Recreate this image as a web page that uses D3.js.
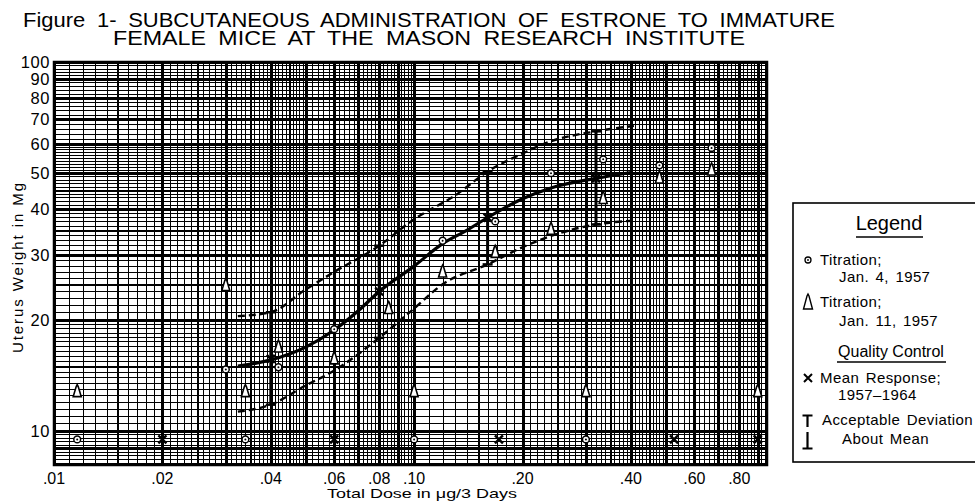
<!DOCTYPE html>
<html>
<head>
<meta charset="utf-8">
<script src="https://d3js.org/d3.v7.min.js"></script>
<style>
  body{ margin:0px; padding:0px; background:#fff; }
  text{ font-family:"Liberation Sans", Arial, sans-serif; fill:#000; }
</style>
</head>
<body>
<div id="svg_cont"></div>
<script>

// axis ticks
var xTicks = [0.01, 0.02, 0.04, 0.06, 0.08, 0.10, 0.20, 0.40, 0.60, 0.80];
var xTickLabels = [".01", ".02", ".04", ".06", ".08", ".10", ".20", ".40", ".60", ".80"];
var yTicks = [10, 20, 30, 40, 50, 60, 70, 80, 90, 100];

// Titration; Jan. 4, 1957 (circles)
var jan4Dose = [0.030, 0.042, 0.060, 0.120, 0.168, 0.240, 0.335, 0.480, 0.670];
var jan4Wt   = [14.7, 14.9, 18.9, 32.8, 37.0, 50.0, 54.5, 52.5, 58.5];

// Titration; Jan. 11, 1957 (triangles)
var jan11Dose = [0.0116, 0.030, 0.034, 0.042, 0.060, 0.085, 0.100, 0.120, 0.168, 0.240, 0.300, 0.335, 0.480, 0.670, 0.900];
var jan11Wt   = [12.8, 24.8, 12.8, 16.9, 15.7, 21.5, 12.8, 27.0, 30.5, 35.2, 12.8, 42.7, 48.5, 51.0, 12.8];

// marks along the bottom row
var rowCircleDose = [0.0116, 0.034, 0.100, 0.300];
var rowCrossDose  = [0.020, 0.060, 0.172, 0.527, 0.900];
var rowWt = 9.5;

// Quality control: mean response 1957-1964 and acceptable deviation
var meanDose = [0.04, 0.08, 0.16, 0.32];
var meanResp = [15.7, 23.9, 37.9, 48.4];
var devHigh  = [21.0, 31.8, 50.5, 64.9];
var devLow   = [11.8, 17.9, 28.3, 36.3];

// fitted curves
var meanCurveDose = [0.0324, 0.04, 0.05, 0.06, 0.07, 0.08, 0.10, 0.12, 0.14, 0.16, 0.20, 0.24, 0.32, 0.40];
var meanCurveWt   = [15.0, 15.6, 16.9, 18.8, 21.2, 23.9, 28.0, 32.2, 35.0, 37.9, 42.6, 45.6, 48.4, 50.2];
var upperCurveDose = [0.0324, 0.04, 0.05, 0.06, 0.08, 0.10, 0.13, 0.16, 0.20, 0.24, 0.32, 0.41];
var upperCurveWt   = [20.5, 21.0, 24.2, 27.0, 31.8, 37.5, 43.5, 50.5, 56.5, 61.0, 64.9, 67.2];
var lowerCurveDose = [0.0324, 0.04, 0.05, 0.06, 0.08, 0.10, 0.12, 0.16, 0.20, 0.24, 0.32, 0.41];
var lowerCurveWt   = [11.3, 11.8, 13.3, 14.6, 17.9, 21.5, 25.0, 28.3, 31.5, 33.8, 36.3, 37.2];

var w = 975, h = 501;

var svg_main = d3.select("div#svg_cont")
  .append("svg")
  .attr("width", w)
  .attr("height", h)
  .style("display", "block");

svg_main.append("rect").attr("width", w).attr("height", h).attr("fill", "#fff");

var x = d3.scaleLog().domain([0.01, 0.955]).range([54, 767]);
var y = d3.scaleLog().domain([8.1, 100]).range([465, 62]);

// graph paper rulings: [start, end, step]
var xGridSpec = [[0.010, 0.050, 0.001], [0.050, 0.100, 0.002], [0.10, 0.50, 0.01], [0.50, 0.95, 0.02]];
var yGridSpec = [[8.2, 10, 0.2], [10, 20, 0.5], [20, 60, 1], [60, 100, 2]];

function gridValues(spec){
  var out = [];
  spec.forEach(function(s){
    var n = Math.round((s[1] - s[0]) / s[2]);
    for (var i = 0; i <= n; i++) out.push(+(s[0] + i*s[2]).toFixed(4));
  });
  return out;
}
// 2 for whole mantissa, 1 for half mantissa, 0 otherwise
function rank(v){
  var m = v / Math.pow(10, Math.floor(Math.log10(v) + 1e-9));
  if (Math.abs(m - Math.round(m)) < 1e-6) return 2;
  if (m < 5 && Math.abs(m*2 - Math.round(m*2)) < 1e-6) return 1;
  return 0;
}
var gridWidth = [1, 2, 2.4];

var grid = svg_main.append("g").attr("class", "grid")
  .attr("shape-rendering", "crispEdges");

grid.selectAll("line.vx")
  .data(gridValues(xGridSpec))
  .enter().append("line")
    .attr("x1", d => Math.round(x(d)) + 0.5).attr("x2", d => Math.round(x(d)) + 0.5)
    .attr("y1", y.range()[1]).attr("y2", y.range()[0])
    .attr("stroke", "#000")
    .attr("stroke-width", d => gridWidth[rank(d)]);

grid.selectAll("line.hy")
  .data(gridValues(yGridSpec))
  .enter().append("line")
    .attr("y1", d => Math.round(y(d)) + 0.5).attr("y2", d => Math.round(y(d)) + 0.5)
    .attr("x1", x.range()[0]).attr("x2", x.range()[1])
    .attr("stroke", "#000")
    .attr("stroke-width", d => gridWidth[rank(d)]);

svg_main.append("rect")
  .attr("x", x.range()[0]).attr("y", y.range()[1])
  .attr("width", x.range()[1] - x.range()[0])
  .attr("height", y.range()[0] - y.range()[1])
  .attr("fill", "none").attr("stroke", "#000").attr("stroke-width", 2.5);

// tick labels
svg_main.selectAll("text.ytick")
  .data(yTicks)
  .enter().append("text")
    .attr("x", 50).attr("y", d => y(d) + 6)
    .attr("text-anchor", "end")
    .attr("font-size", 16.5).attr("letter-spacing", 0.6)
    .text(d => d);

svg_main.selectAll("text.xtick")
  .data(xTicks)
  .enter().append("text")
    .attr("x", d => x(d)).attr("y", 484)
    .attr("text-anchor", "middle")
    .attr("font-size", 16)
    .text((d, i) => xTickLabels[i]);

// axis titles
svg_main.append("text")
  .attr("transform", "translate(23,268) rotate(-90)")
  .attr("text-anchor", "middle")
  .attr("font-size", 15)
  .attr("textLength", 170).attr("lengthAdjust", "spacing")
  .text("Uterus Weight in Mg");

svg_main.append("text")
  .attr("x", 327).attr("y", 497.5)
  .attr("font-size", 13)
  .attr("textLength", 190).attr("lengthAdjust", "spacingAndGlyphs")
  .text("Total Dose in \u03bcg/3 Days");

// title
svg_main.append("text")
  .attr("x", 23).attr("y", 27)
  .attr("font-size", 19.5).attr("word-spacing", 5)
  .attr("textLength", 812).attr("lengthAdjust", "spacingAndGlyphs")
  .text("Figure 1- SUBCUTANEOUS ADMINISTRATION OF ESTRONE TO IMMATURE");
svg_main.append("text")
  .attr("x", 113).attr("y", 44.5)
  .attr("font-size", 19.5).attr("word-spacing", 5)
  .attr("textLength", 632).attr("lengthAdjust", "spacingAndGlyphs")
  .text("FEMALE MICE AT THE MASON RESEARCH INSTITUTE");

// curves
var line = d3.line()
  .x(d => x(d[0]))
  .y(d => y(d[1]))
  .curve(d3.curveMonotoneX);

var meanCurve = d3.zip(meanCurveDose, meanCurveWt);
var upperCurve = d3.zip(upperCurveDose, upperCurveWt);
var lowerCurve = d3.zip(lowerCurveDose, lowerCurveWt);

svg_main.append("path")
  .attr("d", line(upperCurve))
  .attr("fill", "none").attr("stroke", "#000")
  .attr("stroke-width", 2.4).attr("stroke-dasharray", "7,4");
svg_main.append("path")
  .attr("d", line(lowerCurve))
  .attr("fill", "none").attr("stroke", "#000")
  .attr("stroke-width", 2.4).attr("stroke-dasharray", "7,4");
svg_main.append("path")
  .attr("d", line(meanCurve))
  .attr("fill", "none").attr("stroke", "#000")
  .attr("stroke-width", 3.2);

// acceptable deviation bars
var bars = svg_main.selectAll("g.devbar")
  .data(meanDose)
  .enter().append("g");
bars.append("line")
  .attr("x1", d => x(d)).attr("x2", d => x(d))
  .attr("y1", (d, i) => y(devHigh[i])).attr("y2", (d, i) => y(devLow[i]))
  .attr("stroke", "#000").attr("stroke-width", 3);
bars.append("line")
  .attr("x1", d => x(d) - 5).attr("x2", d => x(d) + 5)
  .attr("y1", (d, i) => y(devHigh[i])).attr("y2", (d, i) => y(devHigh[i]))
  .attr("stroke", "#000").attr("stroke-width", 2.5);
bars.append("line")
  .attr("x1", d => x(d) - 5).attr("x2", d => x(d) + 5)
  .attr("y1", (d, i) => y(devLow[i])).attr("y2", (d, i) => y(devLow[i]))
  .attr("stroke", "#000").attr("stroke-width", 2.5);

// marker shapes
var triPath = "M0,-7 L1,-5 L4,5 L-4,5 L-1,-5 Z";
var crossPath = "M-4,-4L4,4M-4,4L4,-4";

function drawCircles(doses, wts){
  var g = svg_main.append("g");
  doses.forEach(function(d, i){
    var wt = Array.isArray(wts) ? wts[i] : wts;
    g.append("circle").attr("cx", x(d)).attr("cy", y(wt)).attr("r", 3.4)
      .attr("fill", "#fff").attr("stroke", "#000").attr("stroke-width", 1.5);
    g.append("circle").attr("cx", x(d)).attr("cy", y(wt)).attr("r", 1)
      .attr("fill", "#000");
  });
}
function drawTriangles(doses, wts){
  svg_main.append("g").selectAll("path")
    .data(doses)
    .enter().append("path")
      .attr("d", triPath)
      .attr("transform", (d, i) => "translate(" + x(d) + "," + y(wts[i]) + ")")
      .attr("fill", "#fff").attr("stroke", "#000").attr("stroke-width", 1.6);
}
function drawCrosses(doses, wts){
  svg_main.append("g").selectAll("path")
    .data(doses)
    .enter().append("path")
      .attr("d", crossPath)
      .attr("transform", (d, i) => "translate(" + x(d) + "," + y(Array.isArray(wts) ? wts[i] : wts) + ")")
      .attr("fill", "none").attr("stroke", "#000").attr("stroke-width", 2.4);
}

drawCircles(jan4Dose, jan4Wt);
drawTriangles(jan11Dose, jan11Wt);
drawCircles(rowCircleDose, rowWt);
drawCrosses(rowCrossDose, rowWt);
drawCrosses(meanDose, meanResp);

// legend
var lg = svg_main.append("g");
lg.append("rect")
  .attr("x", 793).attr("y", 203).attr("width", 200).attr("height", 259)
  .attr("fill", "#fff").attr("stroke", "#000").attr("stroke-width", 1.6);

lg.append("text").attr("x", 889).attr("y", 230).attr("text-anchor", "middle")
  .attr("font-size", 20).text("Legend");
lg.append("line").attr("x1", 856).attr("x2", 923).attr("y1", 237).attr("y2", 237)
  .attr("stroke", "#000").attr("stroke-width", 1.5);

var legItems = [
  ["Titration;", 820, 265], ["Jan. 4, 1957", 839, 282],
  ["Titration;", 820, 307], ["Jan. 11, 1957", 839, 326],
  ["Mean Response;", 820, 383], ["1957\u20131964", 838, 400],
  ["Acceptable Deviation", 822, 425], ["About Mean", 842, 444]
];
lg.selectAll("text.item")
  .data(legItems)
  .enter().append("text")
    .attr("x", d => d[1]).attr("y", d => d[2])
    .attr("font-size", 15).attr("letter-spacing", 0.4).attr("word-spacing", 2)
    .text(d => d[0]);

lg.append("text").attr("x", 891).attr("y", 357).attr("text-anchor", "middle")
  .attr("font-size", 16).text("Quality Control");
lg.append("line").attr("x1", 837).attr("x2", 946).attr("y1", 362).attr("y2", 362)
  .attr("stroke", "#000").attr("stroke-width", 1.5);

// legend symbols
lg.append("circle").attr("cx", 808).attr("cy", 260).attr("r", 3).attr("fill", "#fff")
  .attr("stroke", "#000").attr("stroke-width", 1.3);
lg.append("circle").attr("cx", 808).attr("cy", 260).attr("r", 0.9).attr("fill", "#000");
lg.append("path").attr("d", "M0,-8 L1,-6 L4.5,7 L-4.5,7 L-1,-6 Z")
  .attr("transform", "translate(808,302)")
  .attr("fill", "#fff").attr("stroke", "#000").attr("stroke-width", 1.4);
lg.append("path").attr("d", crossPath).attr("transform", "translate(808,378)")
  .attr("fill", "none").attr("stroke", "#000").attr("stroke-width", 2);
lg.append("path").attr("d", "M802.5,415.5 H812.5 M807.5,415.5 V427")
  .attr("fill", "none").attr("stroke", "#000").attr("stroke-width", 2.2);
lg.append("path").attr("d", "M807.5,432 V448.5 M802.5,448.5 H812.5")
  .attr("fill", "none").attr("stroke", "#000").attr("stroke-width", 2.2);

</script>
</body>
</html>
